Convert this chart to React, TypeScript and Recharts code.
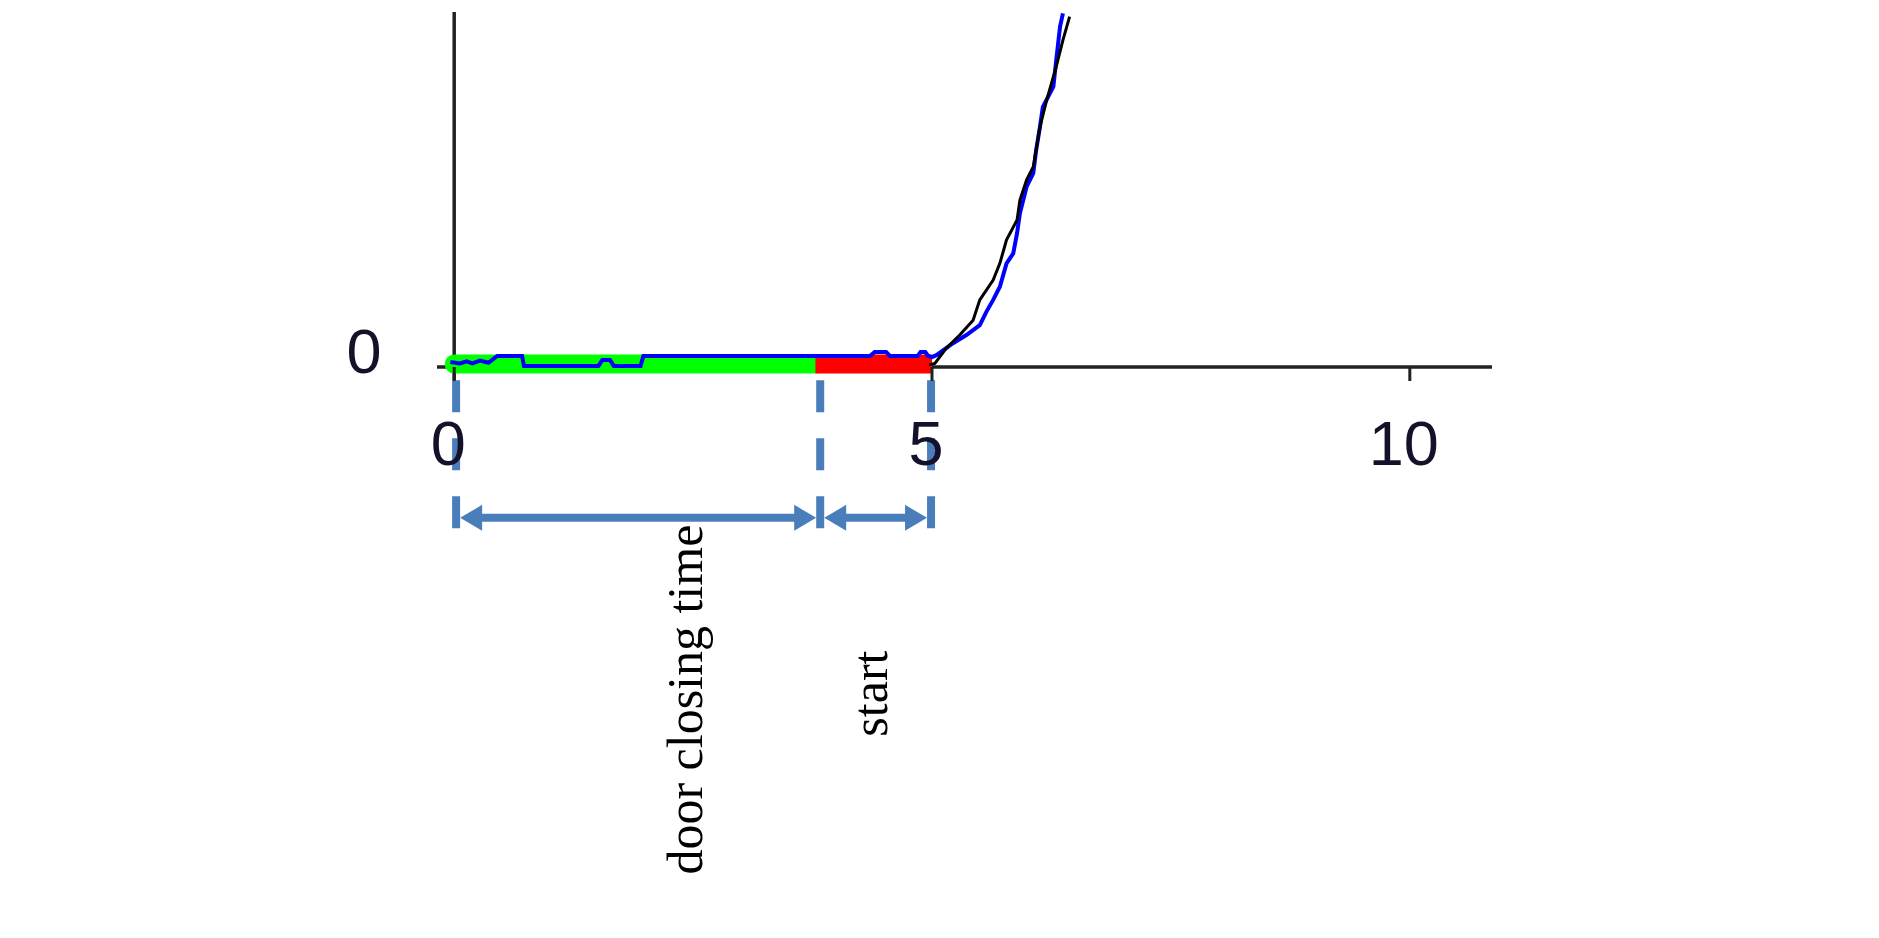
import React from "react";
import {
  ComposedChart,
  Line,
  XAxis,
  YAxis,
  ReferenceLine,
  ReferenceDot,
} from "recharts";

// measured trace (blue) and model trace (black), x in time units, y in % of axis height
const blueX = [
  -0.04, 0.06, 0.13, 0.19, 0.27, 0.36, 0.45, 0.71, 0.73, 1.51, 1.55, 1.63, 1.67, 1.95, 1.98,
  4.35, 4.4, 4.52, 4.56, 4.85, 4.88, 4.93, 4.96, 5.0, 5.05, 5.22, 5.36, 5.5, 5.57, 5.64, 5.71,
  5.78, 5.85, 5.89, 5.92, 5.99, 6.06, 6.09, 6.13, 6.16, 6.27, 6.3, 6.34, 6.37,
];
const blueY = [
  1.4, 1.0, 1.6, 1.0, 1.8, 1.2, 3.1, 3.1, 0.3, 0.3, 2.0, 2.0, 0.3, 0.3, 3.1,
  3.1, 4.2, 4.2, 3.1, 3.1, 4.2, 4.2, 3.1, 2.8, 3.4, 6.7, 9.0, 11.8, 15.6, 18.9, 22.6,
  29.2, 32.0, 37.7, 43.3, 50.8, 54.6, 61.1, 67.7, 73.3, 79.0, 86.5, 95.9, 99.6,
];
const blackX = [
  4.97, 5.03, 5.15, 5.29, 5.43, 5.5, 5.64, 5.71, 5.78, 5.89, 5.92, 5.99, 6.06, 6.13, 6.2, 6.3,
  6.37, 6.44,
];
const blackY = [
  0.6, 1.0, 5.3, 9.0, 13.2, 18.9, 24.5, 29.2, 35.8, 41.4, 47.0, 52.7, 56.4, 67.7, 75.2, 84.6,
  92.1, 98.7,
];

// phases on the time axis
const doorStart = 0;
const doorEnd = 3.78;
const startEnd = 5;
const bandLevel = 0.85;
const markers = [0.02, 3.83, 4.99];

const xTicks = [0, 5, 10];
const yTicks = [0];

const toPoints = (xs: number[], ys: number[]) => xs.map((x, i) => ({ x, y: ys[i] }));

const blueData = toPoints(blueX, blueY);
const blackData = toPoints(blackX, blackY);
const greenData = toPoints([doorStart, doorEnd], [bandLevel, bandLevel]);
const redData = toPoints([doorEnd, startEnd], [bandLevel, bandLevel]);

const ANNOT = "#4a7ebb";
const DIGIT = "#15112a";

function XTick(props: any) {
  const { x, y, payload } = props;
  return (
    <g>
      <line x1={x} x2={x} y1={y - 11} y2={y + 3} stroke="#222" strokeWidth={3} />
      <text
        x={x - 6}
        y={y + 87}
        textAnchor="middle"
        fontFamily="'Liberation Sans', Arial, sans-serif"
        fontSize={63}
        fill={DIGIT}
      >
        {payload.value}
      </text>
    </g>
  );
}

function YTick(props: any) {
  const { x, y, payload } = props;
  return (
    <text
      x={x - 73}
      y={y + 6}
      textAnchor="middle"
      fontFamily="'Liberation Sans', Arial, sans-serif"
      fontSize={63}
      fill={DIGIT}
    >
      {payload.value}
    </text>
  );
}

function Arrow(props: any) {
  const { x1, x2, y1 } = props;
  const a = Math.min(x1, x2) + 4;
  const b = Math.max(x1, x2) - 4;
  const y = y1;
  return (
    <g>
      <line x1={a + 18} x2={b - 18} y1={y} y2={y} stroke={ANNOT} strokeWidth={8} />
      <polygon points={`${a},${y} ${a + 22},${y - 13} ${a + 22},${y + 13}`} fill={ANNOT} />
      <polygon points={`${b},${y} ${b - 22},${y - 13} ${b - 22},${y + 13}`} fill={ANNOT} />
    </g>
  );
}

const rotatedText = (label: string) => (props: any) => {
  const { cx, cy } = props;
  return (
    <text
      x={cx}
      y={cy}
      transform={`rotate(-90 ${cx} ${cy})`}
      textAnchor="middle"
      fontFamily="'Liberation Serif', 'Times New Roman', serif"
      fontSize={50}
      fill="#000"
    >
      {label}
    </text>
  );
};

export default function App() {
  return (
    <div style={{ width: 1863, height: 922 }}>
      <ComposedChart
        width={1863}
        height={922}
        margin={{ top: 4, right: 379, bottom: 512, left: 369 }}
      >
        <XAxis
          type="number"
          dataKey="x"
          domain={[-0.18, 10.86]}
          allowDataOverflow
          ticks={xTicks}
          interval={0}
          axisLine={false}
          tickLine={false}
          tickSize={0}
          tickMargin={0}
          height={40}
          tick={<XTick />}
        />
        <YAxis
          type="number"
          dataKey="y"
          domain={[-3.1, 100]}
          allowDataOverflow
          ticks={yTicks}
          interval={0}
          axisLine={false}
          tickLine={false}
          tickSize={0}
          tickMargin={0}
          width={60}
          tick={<YTick />}
        />

        {/* axes through the origin */}
        <ReferenceLine
          segment={[{ x: -0.18, y: 0 }, { x: 10.86, y: 0 }]}
          stroke="#222"
          strokeWidth={3.5}
          ifOverflow="visible"
        />
        <ReferenceLine
          segment={[{ x: 0, y: -3.7 }, { x: 0, y: 100 }]}
          stroke="#222"
          strokeWidth={3.5}
          ifOverflow="visible"
        />

        {/* phase markers and arrows under the axis */}
        {markers.map((m) => (
          <ReferenceLine
            key={m}
            segment={[{ x: m, y: -3.7 }, { x: m, y: -45.6 }]}
            stroke={ANNOT}
            strokeWidth={8}
            strokeDasharray="32 26"
            ifOverflow="visible"
          />
        ))}
        <ReferenceLine
          segment={[{ x: markers[0], y: -42.5 }, { x: markers[1], y: -42.5 }]}
          ifOverflow="visible"
          shape={<Arrow />}
        />
        <ReferenceLine
          segment={[{ x: markers[1], y: -42.5 }, { x: markers[2], y: -42.5 }]}
          ifOverflow="visible"
          shape={<Arrow />}
        />
        <ReferenceDot
          x={2.595}
          y={-93.7}
          r={0}
          ifOverflow="visible"
          shape={rotatedText("door closing time")}
        />
        <ReferenceDot
          x={4.531}
          y={-92.0}
          r={0}
          ifOverflow="visible"
          shape={rotatedText("start")}
        />

        <Line
          data={greenData}
          dataKey="y"
          stroke="#00ff00"
          strokeWidth={19}
          strokeLinecap="round"
          dot={false}
          activeDot={false}
          isAnimationActive={false}
        />
        <Line
          data={redData}
          dataKey="y"
          stroke="#ff0000"
          strokeWidth={19}
          dot={false}
          activeDot={false}
          isAnimationActive={false}
        />
        <Line
          data={blueData}
          dataKey="y"
          stroke="#0000ff"
          strokeWidth={4}
          dot={false}
          activeDot={false}
          isAnimationActive={false}
        />
        <Line
          data={blackData}
          dataKey="y"
          stroke="#000"
          strokeWidth={3}
          dot={false}
          activeDot={false}
          isAnimationActive={false}
        />
      </ComposedChart>
    </div>
  );
}
